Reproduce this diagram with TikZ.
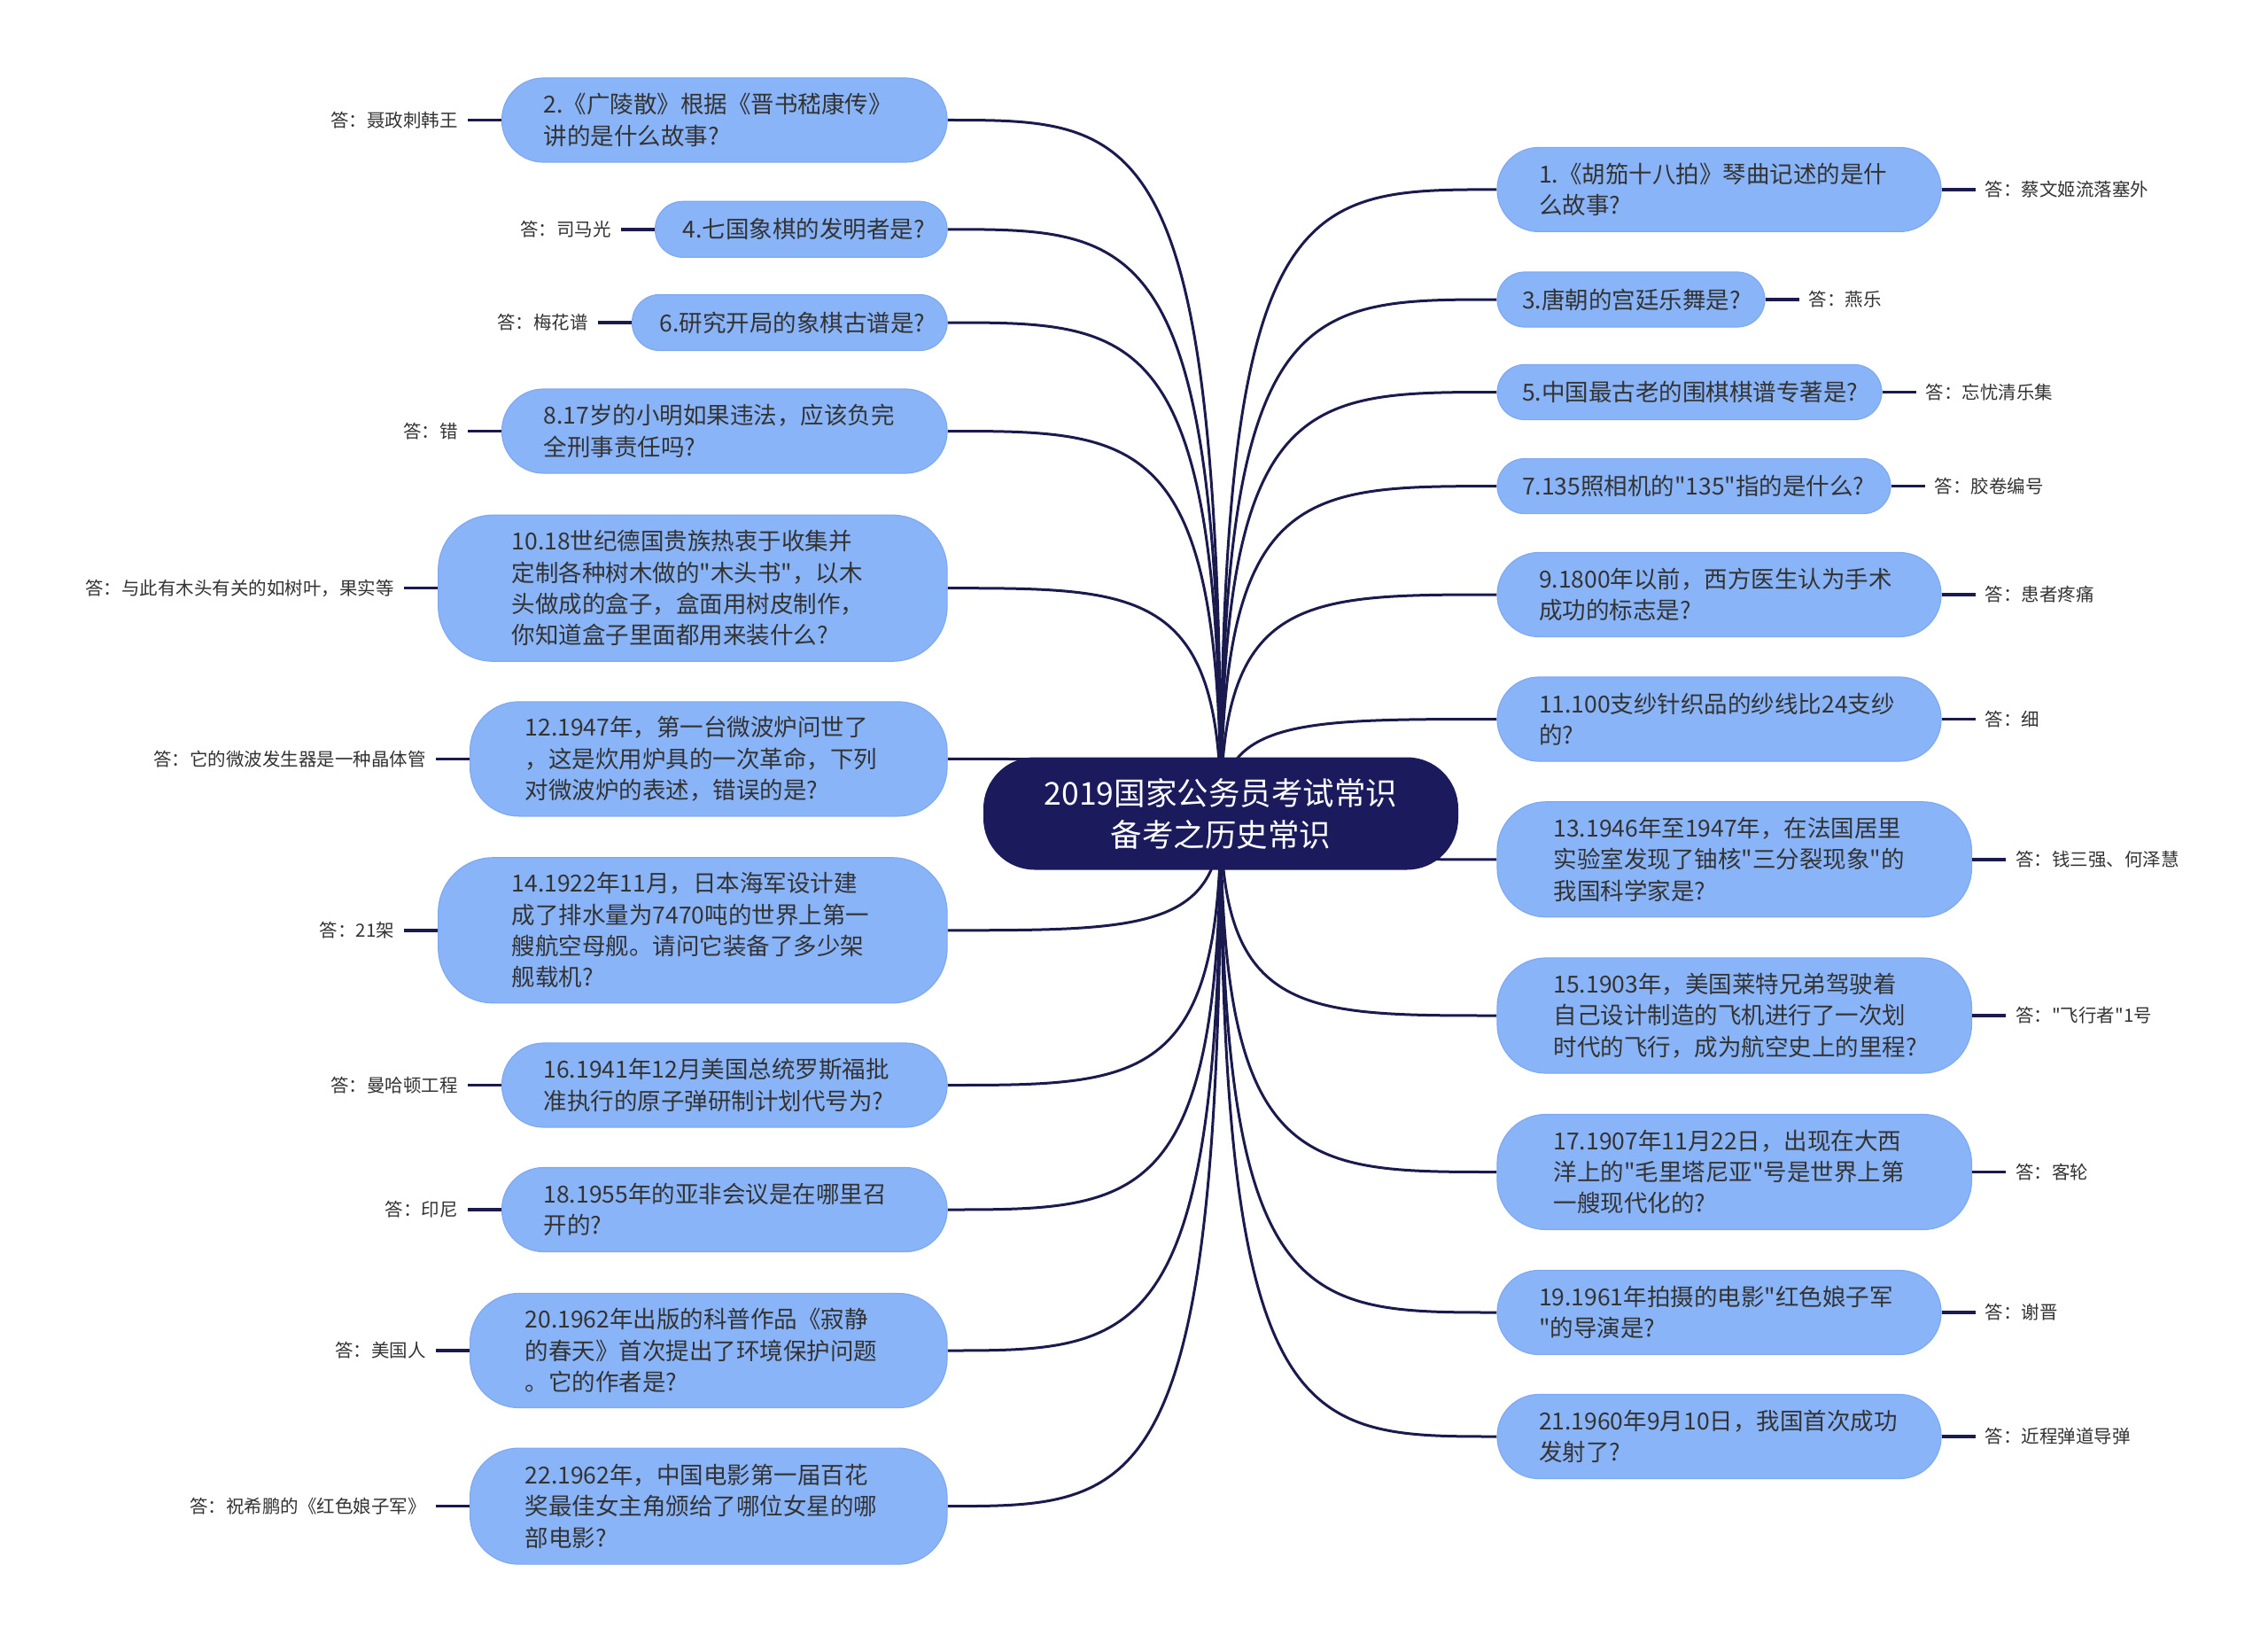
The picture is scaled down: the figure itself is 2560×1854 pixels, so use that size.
\documentclass[tikz,border=0pt]{standalone}
\usepackage{fontspec}
\newfontfamily\cjk{Noto Sans CJK SC}
\usetikzlibrary{calc}
\pgfdeclarelayer{bg}
\pgfsetlayers{bg,main}
\definecolor{qfill}{HTML}{8AB4F8}
\definecolor{qedge}{HTML}{7EA9F2}
\definecolor{rootfill}{HTML}{1B1A5C}
\definecolor{linec}{HTML}{1A1A4E}
\definecolor{txt}{HTML}{333333}
\tikzset{
  q/.style={draw=qedge, line width=1.2pt, fill=qfill, text=txt, align=left,
    inner xsep=0pt, inner ysep=0pt,
    font=\cjk\fontsize{26.5}{35.4}\selectfont},
  rootbox/.style={fill=rootfill, text=white, align=center, rounded corners=58pt,
    minimum width=536pt, minimum height=127pt, inner sep=0pt,
    font=\cjk\fontsize{35.5}{47}\selectfont},
  ans/.style={text=txt, inner xsep=11pt, inner ysep=2pt,
    font=\cjk\fontsize{20.5}{24}\selectfont},
  conn/.style={draw=linec, line width=3pt},
  aconn/.style={draw=linec, line width=3.5pt},
}
\begin{document}
\begin{tikzpicture}[x=1pt,y=-1pt]
\useasboundingbox (0,0) rectangle (2560,1854);
\node[rootbox] (root) at (1378,918) {2019国家公务员考试常识\\备考之历史常识};
% left questions
\node[q, minimum width=502.5pt, minimum height=95pt, text width=408.5pt, rounded corners=47pt] (L2) at (817.8,135.5) {2.《广陵散》根据《晋书嵇康传》\\讲的是什么故事?};
\node[q, minimum width=329.4pt, minimum height=63pt, text width=267.4pt, rounded corners=31pt] (L4) at (904.3,258.8) {4.七国象棋的发明者是?};
\node[q, minimum width=355.5pt, minimum height=63pt, text width=293.5pt, rounded corners=31pt] (L6) at (891.3,364) {6.研究开局的象棋古谱是?};
\node[q, minimum width=502.5pt, minimum height=95pt, text width=408.5pt, rounded corners=47pt] (L8) at (817.8,486.5) {8.17岁的小明如果违法，应该负完\\全刑事责任吗?};
\node[q, minimum width=574.3pt, minimum height=165pt, text width=408.3pt, rounded corners=62pt] (L10) at (781.9,663.7) {10.18世纪德国贵族热衷于收集并\\定制各种树木做的"木头书"，以木\\头做成的盒子，盒面用树皮制作，\\你知道盒子里面都用来装什么?};
\node[q, minimum width=538.4pt, minimum height=129pt, text width=414.4pt, rounded corners=55pt] (L12) at (799.8,856.4) {12.1947年，第一台微波炉问世了\\，这是炊用炉具的一次革命，下列\\对微波炉的表述，错误的是?};
\node[q, minimum width=574.3pt, minimum height=164pt, text width=408.3pt, rounded corners=62pt] (L14) at (781.9,1049.8) {14.1922年11月，日本海军设计建\\成了排水量为7470吨的世界上第一\\艘航空母舰。请问它装备了多少架\\舰载机?};
\node[q, minimum width=502.5pt, minimum height=95pt, text width=408.5pt, rounded corners=47pt] (L16) at (817.8,1224.5) {16.1941年12月美国总统罗斯福批\\准执行的原子弹研制计划代号为?};
\node[q, minimum width=502.5pt, minimum height=95pt, text width=408.5pt, rounded corners=47pt] (L18) at (817.8,1365) {18.1955年的亚非会议是在哪里召\\开的?};
\node[q, minimum width=538.4pt, minimum height=129pt, text width=414.4pt, rounded corners=55pt] (L20) at (799.8,1524) {20.1962年出版的科普作品《寂静\\的春天》首次提出了环境保护问题\\。它的作者是?};
\node[q, minimum width=538.4pt, minimum height=131pt, text width=414.4pt, rounded corners=55pt] (L22) at (799.8,1699.6) {22.1962年，中国电影第一届百花\\奖最佳女主角颁给了哪位女星的哪\\部电影?};
% right questions
\node[q, minimum width=501pt, minimum height=95pt, text width=407pt, rounded corners=47pt] (R1) at (1940.5,213.9) {1.《胡笳十八拍》琴曲记述的是什\\么故事?};
\node[q, minimum width=302pt, minimum height=62pt, text width=246pt, rounded corners=31pt] (R3) at (1841,338) {3.唐朝的宫廷乐舞是?};
\node[q, minimum width=434pt, minimum height=62pt, text width=378pt, rounded corners=31pt] (R5) at (1907,442.5) {5.中国最古老的围棋棋谱专著是?};
\node[q, minimum width=444pt, minimum height=62pt, text width=388pt, rounded corners=31pt] (R7) at (1912,548.6) {7.135照相机的"135"指的是什么?};
\node[q, minimum width=501pt, minimum height=95pt, text width=407pt, rounded corners=47pt] (R9) at (1940.5,671) {9.1800年以前，西方医生认为手术\\成功的标志是?};
\node[q, minimum width=501pt, minimum height=95pt, text width=407pt, rounded corners=47pt] (R11) at (1940.5,811.5) {11.100支纱针织品的纱线比24支纱\\的?};
\node[q, minimum width=535.4pt, minimum height=130pt, text width=408.4pt, rounded corners=55pt] (R13) at (1957.7,969.8) {13.1946年至1947年，在法国居里\\实验室发现了铀核"三分裂现象"的\\我国科学家是?};
\node[q, minimum width=535.4pt, minimum height=130pt, text width=408.4pt, rounded corners=55pt] (R15) at (1957.7,1146) {15.1903年，美国莱特兄弟驾驶着\\自己设计制造的飞机进行了一次划\\时代的飞行，成为航空史上的里程?};
\node[q, minimum width=535.4pt, minimum height=130pt, text width=408.4pt, rounded corners=55pt] (R17) at (1957.7,1322.5) {17.1907年11月22日，出现在大西\\洋上的"毛里塔尼亚"号是世界上第\\一艘现代化的?};
\node[q, minimum width=501pt, minimum height=95pt, text width=407pt, rounded corners=47pt] (R19) at (1940.5,1481) {19.1961年拍摄的电影"红色娘子军\\"的导演是?};
\node[q, minimum width=501pt, minimum height=95pt, text width=407pt, rounded corners=47pt] (R21) at (1940.5,1621) {21.1960年9月10日，我国首次成功\\发射了?};
% answers left
\node[ans, anchor=east] (A2) at ([xshift=-38pt]L2.west) {答：聂政刺韩王};
\node[ans, anchor=east] (A4) at ([xshift=-38pt]L4.west) {答：司马光};
\node[ans, anchor=east] (A6) at ([xshift=-38pt]L6.west) {答：梅花谱};
\node[ans, anchor=east] (A8) at ([xshift=-38pt]L8.west) {答：错};
\node[ans, anchor=east] (A10) at ([xshift=-38pt]L10.west) {答：与此有木头有关的如树叶，果实等};
\node[ans, anchor=east] (A12) at ([xshift=-38pt]L12.west) {答：它的微波发生器是一种晶体管};
\node[ans, anchor=east] (A14) at ([xshift=-38pt]L14.west) {答：21架};
\node[ans, anchor=east] (A16) at ([xshift=-38pt]L16.west) {答：曼哈顿工程};
\node[ans, anchor=east] (A18) at ([xshift=-38pt]L18.west) {答：印尼};
\node[ans, anchor=east] (A20) at ([xshift=-38pt]L20.west) {答：美国人};
\node[ans, anchor=east] (A22) at ([xshift=-38pt]L22.west) {答：祝希鹏的《红色娘子军》};
% answers right
\node[ans, anchor=west] (A1) at ([xshift=38pt]R1.east) {答：蔡文姬流落塞外};
\node[ans, anchor=west] (A3) at ([xshift=38pt]R3.east) {答：燕乐};
\node[ans, anchor=west] (A5) at ([xshift=38pt]R5.east) {答：忘忧清乐集};
\node[ans, anchor=west] (A7) at ([xshift=38pt]R7.east) {答：胶卷编号};
\node[ans, anchor=west] (A9) at ([xshift=38pt]R9.east) {答：患者疼痛};
\node[ans, anchor=west] (A11) at ([xshift=38pt]R11.east) {答：细};
\node[ans, anchor=west] (A13) at ([xshift=38pt]R13.east) {答：钱三强、何泽慧};
\node[ans, anchor=west] (A15) at ([xshift=38pt]R15.east) {答："飞行者"1号};
\node[ans, anchor=west] (A17) at ([xshift=38pt]R17.east) {答：客轮};
\node[ans, anchor=west] (A19) at ([xshift=38pt]R19.east) {答：谢晋};
\node[ans, anchor=west] (A21) at ([xshift=38pt]R21.east) {答：近程弹道导弹};
% connectors
\begin{pgfonlayer}{bg}
\foreach \n in {L2,L4,L6,L8,L10,L12,L14,L16,L18,L20,L22} {
  \draw[conn] (root.center) .. controls (root.center |- \n.east) and ($(root.center |- \n.east)!0.3!(\n.east)$) .. (\n.east);
}
\foreach \n in {R1,R3,R5,R7,R9,R11,R13,R15,R17,R19,R21} {
  \draw[conn] (root.center) .. controls (root.center |- \n.west) and ($(root.center |- \n.west)!0.3!(\n.west)$) .. (\n.west);
}
\end{pgfonlayer}
\foreach \n in {2,4,6,8,10,12,14,16,18,20,22} {
  \draw[aconn] (L\n.west) -- (A\n.east);
}
\foreach \n in {1,3,5,7,9,11,13,15,17,19,21} {
  \draw[aconn] (R\n.east) -- (A\n.west);
}
\end{tikzpicture}
\end{document}
